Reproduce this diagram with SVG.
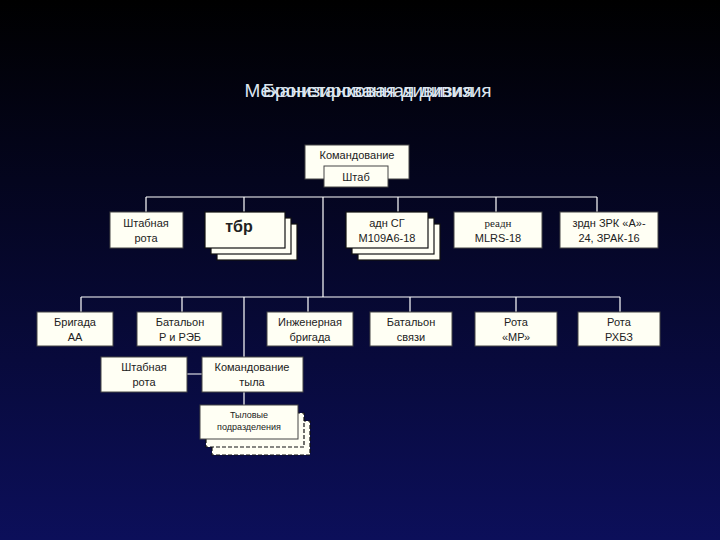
<svg xmlns="http://www.w3.org/2000/svg" width="720" height="540" viewBox="0 0 720 540">
<defs>
<linearGradient id="bg" x1="0" y1="0" x2="0" y2="1"><stop offset="0" stop-color="#000000"/><stop offset="1" stop-color="#0c0f5a"/></linearGradient>
</defs>
<style>
.b{fill:#fffff4;stroke:#444;stroke-width:1}
.s{fill:#fffff4;stroke:#111;stroke-width:1.2}
.d{fill:#fffff4;stroke:#111;stroke-width:1.2;stroke-dasharray:4 2}
.t{font-family:"Liberation Sans",Arial,sans-serif;font-size:11px;fill:#222;text-anchor:middle}
.l{stroke:#ffffff;stroke-width:1.2;fill:none}
.h{font-family:"Liberation Sans",Arial,sans-serif;font-size:19px;fill:#dde6f0;text-anchor:middle}
</style>
<rect width="720" height="540" fill="url(#bg)"/>
<text class="h" x="368" y="97">Механизированная дивизия</text>
<text class="h" x="368" y="97">Бронетанковая дивизия</text>
<g id="connectors">
<path class="l" d="M146 197H597M146 197V212M244 197V212M323 197V297M398 197V212M496 197V212M597 197V212"/>
<path class="l" d="M81 297H620M81 297V312M182 297V312M244 297V358M308 297V312M410 297V312M516 297V312M620 297V312"/>
<path class="l" d="M187 374H202M244 392V405"/>
</g>
<g id="kom"><rect class="b" x="305" y="145" width="104" height="34"/><text class="t" x="357" y="159">Командование</text></g>
<g id="shtab"><rect class="b" x="324" y="166" width="64" height="21"/><text class="t" x="356" y="181">Штаб</text></g>
<g id="shr1"><rect class="b" x="110" y="212" width="73" height="36"/><text class="t" x="146" y="227">Штабная</text><text class="t" x="146" y="242">рота</text></g>
<g id="tbr"><rect class="s" x="217" y="224" width="80" height="36"/><rect class="s" x="211" y="218" width="80" height="36"/><rect class="s" x="205" y="212" width="80" height="36"/><text class="t" x="239" y="232" style="font-size:16px;font-weight:bold">тбр</text></g>
<g id="adn"><rect class="s" x="358" y="224" width="82" height="36"/><rect class="s" x="352" y="218" width="82" height="36"/><rect class="s" x="346" y="212" width="82" height="36"/><text class="t" x="387" y="227">адн СГ</text><text class="t" x="387" y="242">M109A6-18</text></g>
<g id="readn"><rect class="b" x="454" y="212" width="88" height="36"/><text class="t" x="498" y="227" style="font-family:'Liberation Serif',serif">реадн</text><text class="t" x="498" y="242">MLRS-18</text></g>
<g id="zrdn"><rect class="b" x="560" y="212" width="98" height="36"/><text class="t" x="609" y="227">зрдн  ЗРК «А»-</text><text class="t" x="609" y="242">24, ЗРАК-16</text></g>
<g id="brAA"><rect class="b" x="37" y="312" width="76" height="34"/><text class="t" x="75" y="326">Бригада</text><text class="t" x="75" y="341">АА</text></g>
<g id="batR"><rect class="b" x="137" y="312" width="85" height="34"/><text class="t" x="180" y="326">Батальон</text><text class="t" x="180" y="341">Р и РЭБ</text></g>
<g id="ing"><rect class="b" x="267" y="312" width="86" height="34"/><text class="t" x="310" y="326">Инженерная</text><text class="t" x="310" y="341">бригада</text></g>
<g id="bats"><rect class="b" x="370" y="312" width="82" height="34"/><text class="t" x="411" y="326">Батальон</text><text class="t" x="411" y="341">связи</text></g>
<g id="mr"><rect class="b" x="475" y="312" width="82" height="34"/><text class="t" x="516" y="326">Рота</text><text class="t" x="516" y="341">«МР»</text></g>
<g id="rhbz"><rect class="b" x="578" y="312" width="82" height="34"/><text class="t" x="619" y="326">Рота</text><text class="t" x="619" y="341">РХБЗ</text></g>
<g id="shr2"><rect class="b" x="101" y="357" width="86" height="35"/><text class="t" x="144" y="371">Штабная</text><text class="t" x="144" y="386">рота</text></g>
<g id="komt"><rect class="b" x="202" y="357" width="101" height="35"/><text class="t" x="252" y="371">Командование</text><text class="t" x="252" y="386">тыла</text></g>
<g id="tyl"><rect class="d" x="212" y="421" width="98" height="34"/><rect class="d" x="206" y="413" width="98" height="34"/><rect class="b" x="200" y="405" width="98" height="34"/><text class="t" x="249" y="418" style="font-size:9px">Тыловые</text><text class="t" x="249" y="430" style="font-size:9px">подразделения</text></g>
</svg>
